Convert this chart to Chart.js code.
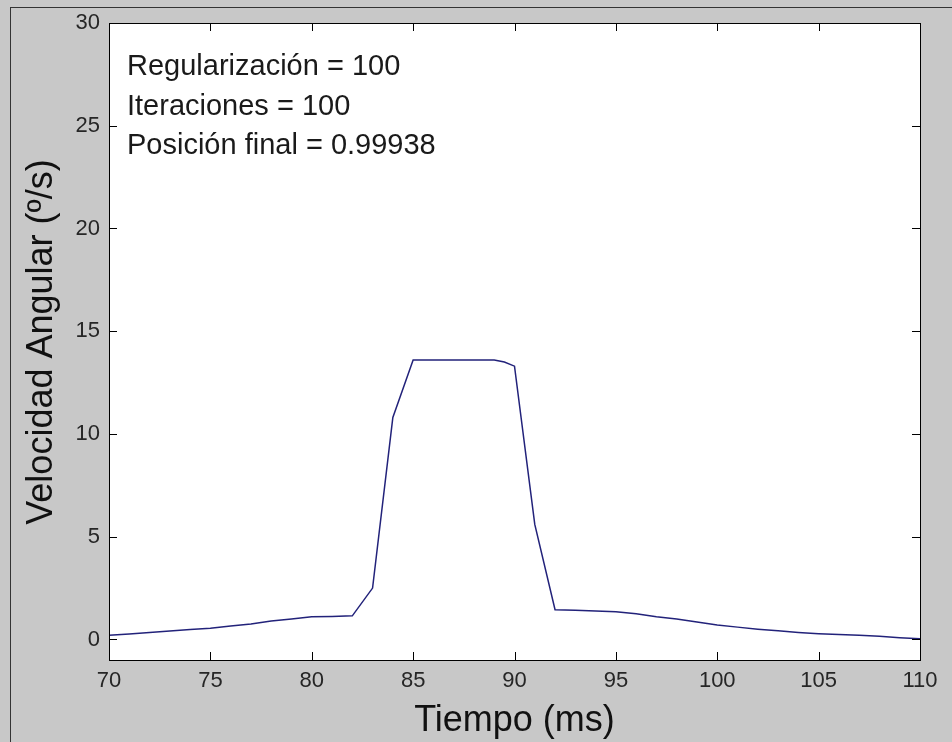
<!DOCTYPE html>
<html>
<head>
<meta charset="utf-8">
<script src="https://cdn.jsdelivr.net/npm/chart.js@4/dist/chart.umd.min.js"></script>
<style>
  html, body { margin: 0; padding: 0; background: #c8c8c8; }
  #wrap { width: 952px; height: 742px; }
</style>
</head>
<body>
<div id="wrap"><canvas id="velChart" width="952" height="742"></canvas></div>
<script>
// tiempo (ms) and velocidad angular (º/s)
const tiempo = [70, 71, 72, 73, 74, 75, 76, 77, 78, 79, 80, 81, 82, 83, 84, 85, 86, 87, 88, 89,
                89.5, 90, 91, 92, 93, 94, 95, 96, 97, 98, 99, 100, 101, 102, 103, 104, 105, 106, 107, 108, 109, 110];
const velocidad = [0.2, 0.27, 0.34, 0.41, 0.48, 0.55, 0.65, 0.75, 0.9, 1.0, 1.1, 1.12, 1.15, 2.5, 10.8, 13.6, 13.6, 13.6, 13.6, 13.6,
                   13.5, 13.3, 5.6, 1.45, 1.42, 1.38, 1.35, 1.25, 1.1, 1.0, 0.85, 0.7, 0.6, 0.5, 0.42, 0.34, 0.28, 0.24, 0.2, 0.15, 0.08, 0.03];
const yTicks = [0, 5, 10, 15, 20, 25, 30];
const xTicks = [70, 75, 80, 85, 90, 95, 100, 105, 110];
const notas = ["Regularización = 100", "Iteraciones = 100", "Posición final = 0.99938"];

const points = tiempo.map((t, i) => ({ x: t, y: velocidad[i] }));
const fontFam = "'Liberation Sans', Arial, sans-serif";

const matlabFrame = {
    id: "matlabFrame",
    beforeDraw(chart) {
        const ctx = chart.ctx;
        const a = chart.chartArea;
        ctx.save();
        ctx.fillStyle = "#c8c8c8";
        ctx.fillRect(0, 0, chart.width, chart.height);
        ctx.strokeStyle = "#333";
        ctx.lineWidth = 1;
        ctx.strokeRect(10.5, 7.5, chart.width, chart.height);
        ctx.fillStyle = "#ffffff";
        ctx.fillRect(a.left, a.top, a.right - a.left, a.bottom - a.top);
        ctx.restore();
    },
    afterDraw(chart) {
        const ctx = chart.ctx;
        const a = chart.chartArea;
        const xs = chart.scales.x, ys = chart.scales.y;
        ctx.save();
        ctx.strokeStyle = "#000";
        ctx.lineWidth = 1;
        ctx.strokeRect(Math.round(a.left) + 0.5, Math.round(a.top) + 0.5,
            Math.round(a.right - a.left), Math.round(a.bottom - a.top));
        ctx.beginPath();
        xTicks.forEach(v => {
            const px = Math.round(xs.getPixelForValue(v)) + 0.5;
            ctx.moveTo(px, a.bottom); ctx.lineTo(px, a.bottom - 8);
            ctx.moveTo(px, a.top); ctx.lineTo(px, a.top + 8);
        });
        yTicks.forEach(v => {
            const py = Math.round(ys.getPixelForValue(v)) + 0.5;
            ctx.moveTo(a.left, py); ctx.lineTo(a.left + 8, py);
            ctx.moveTo(a.right, py); ctx.lineTo(a.right - 8, py);
        });
        ctx.stroke();

        // annotation text
        ctx.fillStyle = "#1a1a1a";
        ctx.font = "29px " + fontFam;
        ctx.textBaseline = "alphabetic";
        ctx.textAlign = "left";
        notas.forEach((n, i) => ctx.fillText(n, 127, 75 + i * 39.5));

        // axis titles
        ctx.fillStyle = "#111";
        ctx.font = "36px " + fontFam;
        ctx.textAlign = "center";
        ctx.fillText("Tiempo (ms)", (a.left + a.right) / 2, 731);
        ctx.translate(52, 342);
        ctx.rotate(-Math.PI / 2);
        ctx.fillText("Velocidad Angular (º/s)", 0, 0);
        ctx.restore();
    }
};

new Chart(document.getElementById("velChart").getContext("2d"), {
    type: "line",
    data: {
        datasets: [{
            data: points,
            borderColor: "#22227a",
            borderWidth: 1.5,
            pointRadius: 0,
            tension: 0,
            fill: false
        }]
    },
    options: {
        responsive: false,
        animation: false,
        layout: { padding: { left: 0, right: 32, top: 23, bottom: 0 } },
        plugins: { legend: { display: false }, tooltip: { enabled: false } },
        scales: {
            x: {
                type: "linear",
                min: 70,
                max: 110,
                afterBuildTicks: s => { s.ticks = xTicks.map(v => ({ value: v })); },
                afterFit: s => { s.height = 82; },
                grid: { display: false, drawTicks: false },
                border: { display: false },
                ticks: { padding: 8, color: "#262626", font: { family: fontFam, size: 22 } }
            },
            y: {
                type: "linear",
                min: -1,
                max: 30,
                afterBuildTicks: s => { s.ticks = yTicks.map(v => ({ value: v })); },
                afterFit: s => { s.width = 109; },
                grid: { display: false, drawTicks: false },
                border: { display: false },
                ticks: { padding: 9, color: "#262626", font: { family: fontFam, size: 22 } }
            }
        }
    },
    plugins: [matlabFrame]
});
</script>
</body>
</html>
